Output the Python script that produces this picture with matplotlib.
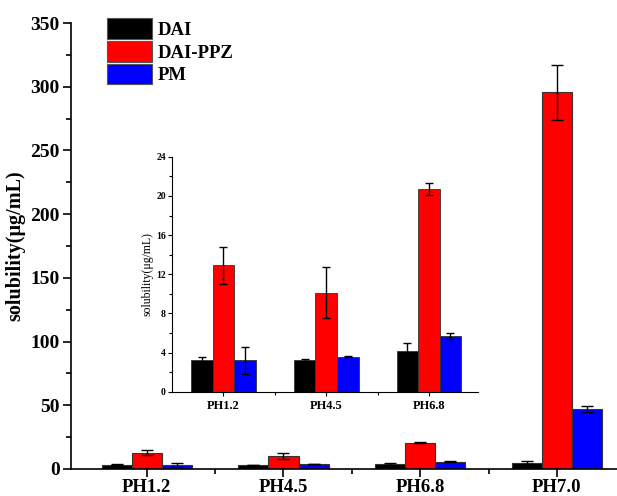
import matplotlib
matplotlib.use("Agg")
import matplotlib.pyplot as plt
import numpy as np
from matplotlib.ticker import MultipleLocator

plt.rcParams['font.family'] = ['Liberation Serif', 'DejaVu Serif']
plt.rcParams['font.weight'] = 'bold'

categories = ['PH1.2', 'PH4.5', 'PH6.8', 'PH7.0']
series = ['DAI', 'DAI-PPZ', 'PM']
colors = ['#000000', '#ff0000', '#0000ff']

dai = [3.3, 3.2, 4.2, 5.0]
dai_err = [0.25, 0.15, 0.8, 1.1]
dai_ppz = [12.9, 10.1, 20.7, 295.5]
dai_ppz_err = [1.85, 2.6, 0.6, 21.5]
pm = [3.2, 3.6, 5.7, 47.0]
pm_err = [1.35, 0.08, 0.3, 2.6]

values = [dai, dai_ppz, pm]
errors = [dai_err, dai_ppz_err, pm_err]

fig = plt.figure(figsize=(6.17, 4.96), dpi=100)
ax = fig.add_axes([0.115, 0.0545, 0.885, 0.899])

x = np.arange(len(categories))
width = 0.22
for i, (vals, errs) in enumerate(zip(values, errors)):
    ax.bar(x + (i - 1) * width, vals, width, color=colors[i], edgecolor='#333333',
           linewidth=0.8, label=series[i], yerr=errs, capsize=4,
           error_kw=dict(elinewidth=1.0, capthick=1.0, ecolor='black'))

ax.set_xlim(-0.555, 3.44)
ax.set_ylim(0, 350)
ax.set_xticks(x)
ax.set_xticklabels(categories, fontsize=13.5, fontweight='bold')
ax.set_xticks(x[:-1] + 0.5, minor=True)
ax.yaxis.set_major_locator(MultipleLocator(50))
ax.yaxis.set_minor_locator(MultipleLocator(25))
ax.tick_params(axis='y', labelsize=14, width=1.2, length=6, pad=2)
ax.tick_params(axis='x', width=1.2, length=6, pad=1)
ax.tick_params(which='minor', width=1.2, length=3.5)
for lbl in ax.get_yticklabels():
    lbl.set_fontweight('bold')
ax.set_ylabel('solubility(μg/mL)', fontsize=14.5, fontweight='bold', labelpad=4)
for s in ['top', 'right']:
    ax.spines[s].set_visible(False)
for s in ['left', 'bottom']:
    ax.spines[s].set_linewidth(1.2)

leg = ax.legend(loc='upper left', bbox_to_anchor=(0.059, 1.019), frameon=False,
                prop=dict(size=13.5, weight='bold'), handlelength=2.4, handleheight=1.3,
                labelspacing=0.12, handletextpad=0.3, borderaxespad=0.0, borderpad=0.2)
for h in leg.legend_handles:
    h.set_edgecolor('#555555')

# inset with the low pH values
ins = fig.add_axes([0.279, 0.210, 0.496, 0.474])
xi = np.arange(3)
wi = 0.21
for i, (vals, errs) in enumerate(zip(values, errors)):
    ins.bar(xi + (i - 1) * wi, vals[:3], wi, color=colors[i], edgecolor='#333333',
            linewidth=0.6, yerr=errs[:3], capsize=3,
            error_kw=dict(elinewidth=1.0, capthick=1.0, ecolor='black'))
ins.set_xlim(-0.5, 2.48)
ins.set_ylim(0, 24)
ins.set_xticks(xi)
ins.set_xticklabels(categories[:3], fontsize=9, fontweight='bold')
ins.set_xticks([0.5, 1.5], minor=True)
ins.yaxis.set_major_locator(MultipleLocator(4))
ins.yaxis.set_minor_locator(MultipleLocator(2))
ins.tick_params(axis='y', labelsize=7, length=3, width=0.8, pad=1.5)
ins.tick_params(axis='x', length=3, width=0.8, pad=3)
ins.tick_params(which='minor', length=2, width=0.8)
for lbl in ins.get_yticklabels():
    lbl.set_fontweight('bold')
ins.set_ylabel('solubility(μg/mL)', fontsize=8.5, fontweight='normal', labelpad=2)
for s in ['top', 'right']:
    ins.spines[s].set_visible(False)
for s in ['left', 'bottom']:
    ins.spines[s].set_linewidth(0.8)

fig.savefig('out.png', dpi=100)
